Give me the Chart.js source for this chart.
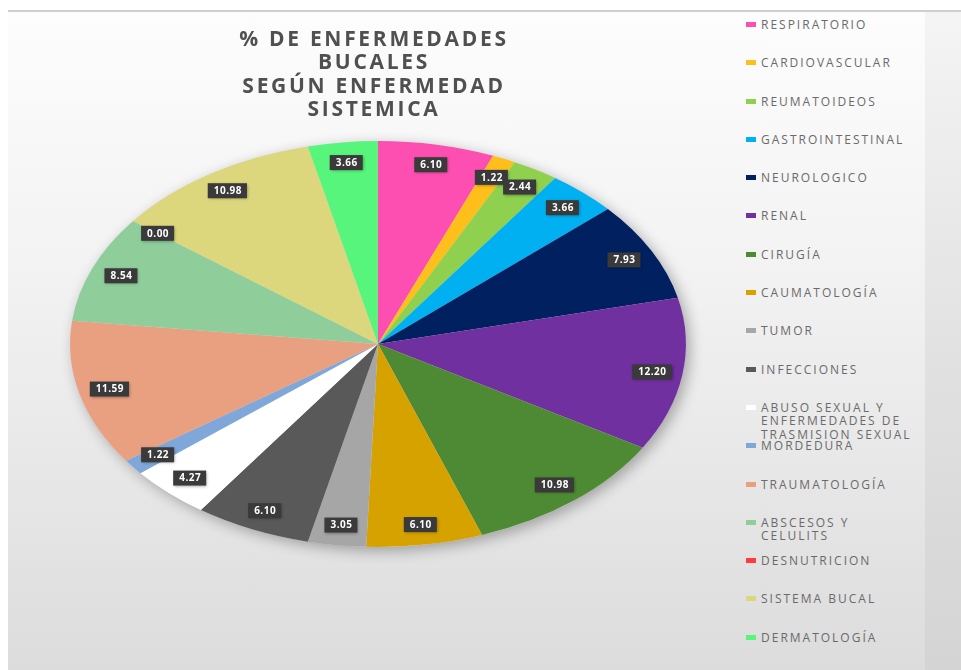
<!DOCTYPE html>
<html>
<head>
<meta charset="utf-8">
<script src="https://cdn.jsdelivr.net/npm/chart.js@4"></script>
<style>
  html, body { margin: 0; padding: 0; background: #fff; }
  body { width: 961px; height: 670px; position: relative; overflow: hidden; font-family: "Open Sans", sans-serif; }
  #frame {
    position: absolute; left: 8px; top: 10px; width: 953px; height: 660px;
    border-top: 2px solid #cfcfcf;
    background: linear-gradient(#fdfdfd, #f2f2f2 40%, #dcdcdc);
  }
  #strip {
    position: absolute; left: 925px; top: 12px; width: 36px; height: 658px;
    background: linear-gradient(#f4f4f4, #e2e2e2 50%, #d4d4d4);
  }
  #wrap { position: absolute; left: 8px; top: 11px; width: 727px; height: 659px; }
  #legend { position: absolute; left: 746px; top: 18px; width: 180px; }
  .row { height: 38.3px; display: flex; align-items: flex-start; }
  .row i { display: block; width: 10px; height: 5px; margin-top: 4px; margin-right: 5px; flex: none; }
  .row span { font-size: 12px; line-height: 13.5px; letter-spacing: 2px; color: #6a6a6a; white-space: nowrap; }
</style>
</head>
<body>
<div id="frame"></div>
<div id="strip"></div>
<div id="wrap"><canvas id="myChart"></canvas></div>
<div id="legend"></div>
<script>
// data
const categories = ['RESPIRATORIO', 'CARDIOVASCULAR', 'REUMATOIDEOS', 'GASTROINTESTINAL', 'NEUROLOGICO', 'RENAL',
  'CIRUGÍA', 'CAUMATOLOGÍA', 'TUMOR', 'INFECCIONES',
  ['ABUSO SEXUAL Y', 'ENFERMEDADES DE', 'TRASMISION SEXUAL'],
  'MORDEDURA', 'TRAUMATOLOGÍA', ['ABSCESOS Y', 'CELULITS'], 'DESNUTRICION', 'SISTEMA BUCAL', 'DERMATOLOGÍA'];
const percentages = [6.10, 1.22, 2.44, 3.66, 7.93, 12.20, 10.98, 6.10, 3.05, 6.10, 4.27, 1.22, 11.59, 8.54, 0.00, 10.98, 3.66];
const colors = ['#fd4fb2', '#ffbf1a', '#8fd14f', '#00b0f0', '#002060', '#7030a0', '#4e8a34', '#d6a200', '#a6a6a6', '#595959',
  '#ffffff', '#7fa7d9', '#e9a080', '#8fce9b', '#ff3b3b', '#dcd77d', '#58f57c'];
const titleLines = ['% DE ENFERMEDADES', 'BUCALES', 'SEGÚN ENFERMEDAD', 'SISTEMICA'];

const SX = 308 / 203; // pie is drawn squashed like the tilted original

const ellipsePie = {
  id: 'ellipsePie',
  beforeDraw(chart) {
    // title is drawn right after this hook: space it out and nudge left
    const ctx = chart.ctx;
    ctx.save();
    ctx.translate(-4, 0);
    ctx.letterSpacing = '2.7px';
  },
  beforeDatasetsDraw(chart) {
    const ctx = chart.ctx;
    ctx.restore();
    const a = chart.getDatasetMeta(0).data[0];
    ctx.save();
    ctx.translate(a.x, a.y);
    ctx.scale(SX, 1);
    ctx.translate(-a.x, -a.y);
    // soft shadow under the whole pie
    ctx.save();
    ctx.shadowColor = 'rgba(0,0,0,0.3)';
    ctx.shadowBlur = 14;
    ctx.shadowOffsetX = 4;
    ctx.shadowOffsetY = 4;
    ctx.fillStyle = '#e0e0e0';
    ctx.beginPath();
    ctx.arc(a.x, a.y, a.outerRadius, 0, Math.PI * 2);
    ctx.fill();
    ctx.restore();
  },
  afterDatasetsDraw(chart) {
    const ctx = chart.ctx;
    ctx.restore();
    ctx.save();
    ctx.font = 'bold 10px "Open Sans"';
    ctx.letterSpacing = '0.5px';
    ctx.textAlign = 'center';
    ctx.textBaseline = 'middle';
    chart.getDatasetMeta(0).data.forEach(function (arc, i) {
      const mid = (arc.startAngle + arc.endAngle) / 2;
      const r = arc.outerRadius * 0.9;
      const px = arc.x + Math.cos(mid) * r * SX;
      const py = arc.y + Math.sin(mid) * r;
      const txt = percentages[i].toFixed(2);
      const w = ctx.measureText(txt).width + 11;
      const h = 15;
      ctx.save();
      ctx.shadowColor = 'rgba(0,0,0,0.35)';
      ctx.shadowBlur = 3;
      ctx.shadowOffsetX = 1;
      ctx.shadowOffsetY = 1;
      ctx.fillStyle = '#3a3a3a';
      ctx.fillRect(px - w / 2, py - h / 2, w, h);
      ctx.restore();
      ctx.fillStyle = '#ffffff';
      ctx.fillText(txt, px + 0.5, py + 0.5);
    });
    ctx.restore();
  }
};

const data = {
  labels: categories,
  datasets: [{
    data: percentages,
    backgroundColor: colors,
    borderWidth: 0
  }]
};

const config = {
  type: 'pie',
  data,
  options: {
    responsive: true,
    maintainAspectRatio: false,
    animation: false,
    layout: { padding: { left: 13, bottom: 123 } },
    plugins: {
      legend: { display: false },
      tooltip: { enabled: false },
      title: {
        display: true,
        text: titleLines,
        color: '#505050',
        font: { family: 'Open Sans', size: 21, weight: 'bold', lineHeight: 1.12 },
        padding: { top: 17, bottom: 19 }
      }
    }
  },
  plugins: [ellipsePie]
};

const myChart = new Chart(document.getElementById('myChart'), config);

// legend on the right, built from the same arrays
var html = '';
for (i = 0; i < categories.length; i++) {
  var name = Array.isArray(categories[i]) ? categories[i].join('<br>') : categories[i];
  html += '<div class="row"><i style="background:' + colors[i] + '"></i><span>' + name + '</span></div>';
}
document.getElementById('legend').innerHTML = html;
</script>
</body>
</html>
